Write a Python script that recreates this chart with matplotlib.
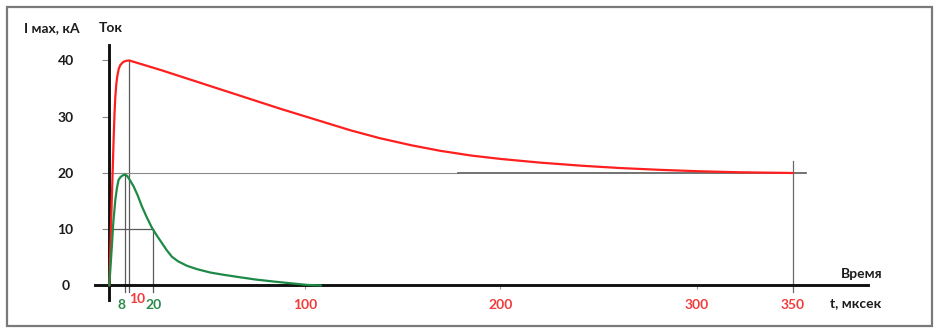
import matplotlib
matplotlib.use("Agg")
import numpy as np
import matplotlib.pyplot as plt
from matplotlib.patches import Rectangle

plt.rcParams['font.family'] = ['Lato', 'Noto Sans', 'DejaVu Sans']
plt.rcParams['font.weight'] = 'bold'

# --- data ---
red_t = [0, 1, 2.2, 2.6, 3, 3.5, 4, 4.7, 5.5, 7, 8.5, 10, 24, 45, 66, 87, 108,
         123, 138, 154, 169, 185, 200, 220, 241, 261, 282, 302, 323, 350]
red_i = [0, 12.3, 26.5, 30.5, 33.5, 35.8, 37.2, 38.5, 39.2, 39.75, 39.95, 40,
         38.3, 36.0, 33.7, 31.4, 29.2, 27.6, 26.2, 24.95, 23.95, 23.1, 22.5,
         21.85, 21.3, 20.88, 20.55, 20.3, 20.12, 20.0]

green_t = [0, 1.35, 2, 3, 3.8, 4.65, 5.7, 6.85, 8, 8.85, 10.3, 11.8, 13.5, 15.3,
           17.3, 19.5, 22, 24.6, 27, 29.8, 33, 37.7, 43, 50, 57, 65.8, 74, 83.3,
           92, 100.9, 108]
green_i = [0, 7.4, 11.2, 15.2, 17.3, 18.8, 19.3, 19.6, 19.7, 19.5, 18.7, 17.6,
           16.0, 14.0, 12.1, 10.2, 8.8, 7.5, 6.3, 5.1, 4.3, 3.5, 2.9, 2.3, 1.9,
           1.45, 1.05, 0.7, 0.4, 0.1, 0]

y_ticks = [0, 10, 20, 30, 40]
x_ticks = [8, 10, 20, 100, 200, 300, 350]
x_tick_labels = ['8', '10', '20', '100', '200', '300', '350']
x_tick_series = ['green', 'red', 'green', 'red', 'red', 'red', 'red']

green_peak_t, green_peak_i = 8, 20
green_half_t, green_half_i = 20, 10
red_peak_t, red_peak_i = 10, 40
red_half_t, red_half_i = 350, 20

# the hand-drawn time axis is not perfectly uniform: scale knots
scale_t = [-50, 0, 10, 20, 100, 200, 300, 350, 500]
scale_u = [9, 109, 129, 153, 305, 500, 696, 792, 1080]

RED = '#ff1f1f'
GREEN = '#1e8a48'
RED_TXT = '#f23c3c'
GREEN_TXT = '#2a8a4c'
GRAY = '#5a5a5a'
TXT = '#1c1c1c'

W, H = 942, 333
fig = plt.figure(figsize=(W / 100, H / 100), dpi=100)

x0, x1 = 95.3, 867.5
ytop, ybot = 44.75, 300.1
ax = fig.add_axes([x0 / W, (H - ybot) / H, (x1 - x0) / W, (ybot - ytop) / H])
ax.set_xscale('function', functions=(lambda t: np.interp(t, scale_t, scale_u),
                                     lambda u: np.interp(u, scale_u, scale_t)))
ax.set_xlim(-7, 389)
ax.set_ylim(-2.6, 42.8)
ax.patch.set_alpha(0)

for s in ['top', 'right']:
    ax.spines[s].set_visible(False)
for s in ['left', 'bottom']:
    ax.spines[s].set_position(('data', 0))
    ax.spines[s].set_linewidth(2.1)
    ax.spines[s].set_color('#111111')

# helper lines
ax.plot([green_peak_t, green_peak_t], [-1.2, green_peak_i], color=GRAY, lw=0.9)
ax.plot([red_peak_t, red_peak_t], [-1.2, red_peak_i], color=GRAY, lw=0.9)
ax.plot([green_half_t, green_half_t], [-1.2, green_half_i], color=GRAY, lw=0.9)
ax.plot([0, green_half_t], [green_half_i, green_half_i], color=GRAY, lw=0.9)
ax.plot([0, 178], [red_half_i, red_half_i], color='#8a8a8a', lw=0.8)
ax.plot([178, 357], [red_half_i, red_half_i], color=GRAY, lw=1.2)
ax.plot([red_half_t, red_half_t], [-1.2, 22.1], color='#6a6a6a', lw=0.9)

# curves
ax.plot(red_t, red_i, color=RED, lw=1.6, solid_capstyle='round',
        solid_joinstyle='round', zorder=4)
ax.plot(green_t, green_i, color=GREEN, lw=1.6, solid_capstyle='round',
        solid_joinstyle='round', zorder=4)

# y ticks
ax.set_yticks(y_ticks)
ax.set_yticklabels([str(v) for v in y_ticks])
ax.tick_params(axis='y', direction='out', length=5, width=0.8, color='#888888',
               pad=26.5, labelsize=10, labelcolor=TXT)
for lab in ax.get_yticklabels():
    lab.set_ha('center')
    lab.set_fontweight('bold')

# x ticks
ax.set_xticks(x_ticks)
ax.set_xticklabels(x_tick_labels)
ax.xaxis.set_minor_locator(matplotlib.ticker.NullLocator())
ax.tick_params(axis='x', direction='out', length=3, width=0.8, color='#999999',
               pad=6.5, labelsize=10)
for lab, s in zip(ax.get_xticklabels(), x_tick_series):
    lab.set_color(GREEN_TXT if s == 'green' else RED_TXT)
    lab.set_fontweight('bold')
labs = ax.get_xticklabels()
labs[0].set_ha('right')
labs[1].set_ha('left')
tk = ax.xaxis.get_major_ticks()
tk[1].set_pad(2.5)

# texts
def ftext(px, py, s, **kw):
    fig.text(px / W, 1 - py / H, s, fontsize=10, fontweight='bold', color=TXT, **kw)

ftext(24, 28, 'I мах, кА', ha='left', va='center')
ftext(99, 28, 'Ток', ha='left', va='center')
ftext(882, 274, 'Время', ha='right', va='center')
ftext(881, 303, 't, мксек', ha='right', va='center')

# border
fig.patches.append(Rectangle((6.5 / W, 7.5 / H), (932 - 6.5) / W, (326 - 7.5) / H,
                             transform=fig.transFigure, fill=False,
                             edgecolor='#7a7a7a', lw=1.6))

fig.savefig('out.png', dpi=100)
